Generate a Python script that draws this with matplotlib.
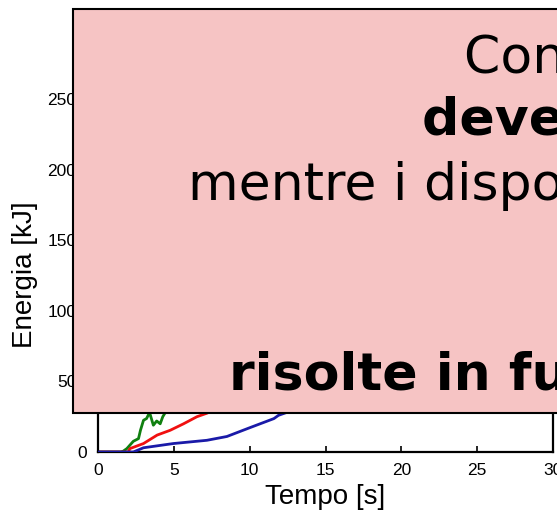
import numpy as np
import matplotlib.pyplot as plt
from matplotlib.patches import Rectangle

# energy curves (read off the visible part, rest guessed)
t_green = [0, 1.5, 1.65, 1.9, 2.33, 2.67, 2.8, 3.0, 3.2, 3.4, 3.65, 3.87, 4.1, 4.27, 5.0, 6.0]
e_green = [0, 0, 0.5, 2.4, 7.6, 9.5, 15.4, 22.5, 23.7, 28.0, 19.0, 22.0, 20.0, 25.0, 38.0, 55.0]

t_red = [0, 2.0, 2.1, 3.0, 3.9, 4.76, 5.64, 6.52, 7.18, 8.5, 10.0]
e_red = [0, 0, 2.4, 6.0, 12.0, 15.4, 20.0, 25.0, 27.5, 34.0, 42.0]

t_blue = [0, 2.33, 3.0, 4.97, 7.18, 8.5, 10.05, 11.6, 11.9, 14.0, 17.0]
e_blue = [0, 0, 3.0, 6.0, 8.3, 11.0, 17.4, 23.7, 26.0, 34.0, 48.0]

xticks = [0, 5, 10, 15, 20, 25, 30]
yticks = [0, 50, 100, 150, 200, 250]

overlay_lines = [
    ("Contenuto non disponibile", "normal"),
    ("deve essere aggiornato", "bold"),
    ("mentre i dispositivi vengono verificati", "normal"),
    ("risolte in futuro", "bold"),
]

fig = plt.figure(figsize=(5.57, 5.15), dpi=100)
ax = fig.add_axes([98/557, 63/515, 455/557, 354/515])

ax.plot(t_blue, e_blue, color='#1a1aa8', lw=2, zorder=3)
ax.plot(t_red, e_red, color='#f01010', lw=2, zorder=2)
ax.plot(t_green, e_green, color='#108010', lw=2, zorder=1)

ax.set_xlim(0, 30)
ax.set_ylim(0, 251)
ax.set_xticks(xticks)
ax.set_yticks(yticks)
ax.tick_params(direction='in', length=4, width=1.2, labelsize=12.5)
ax.tick_params(axis='x', pad=8)
ax.tick_params(axis='y', pad=15.5)
ax.yaxis.get_major_ticks()[0].set_pad(8)  # the origin label sits closer
for lab in ax.get_xticklabels() + ax.get_yticklabels():
    lab.set_family('Liberation Sans')
for s in ax.spines.values():
    s.set_linewidth(1.6)
ax.set_xlabel('Tempo [s]', fontsize=20, family='Liberation Sans', labelpad=4)
ax.set_ylabel('Energia [kJ]', fontsize=20, family='Liberation Sans', labelpad=7)

# pink overlay box
box = Rectangle((73/557, 102/515), 1.0, 404/515, transform=fig.transFigure,
                facecolor='#f6c4c4', edgecolor='black', lw=1.5, zorder=10)
fig.patches.append(box)

starts = [464, 422, 188, 229]
baselines = [73, 135, 200, 390]
for (txt, w), x0, yb in zip(overlay_lines, starts, baselines):
    fig.text(x0/557, 1 - yb/515, txt, fontsize=37.5, fontweight=w,
             ha='left', va='baseline', zorder=11)

fig.savefig('out.png', dpi=100)
